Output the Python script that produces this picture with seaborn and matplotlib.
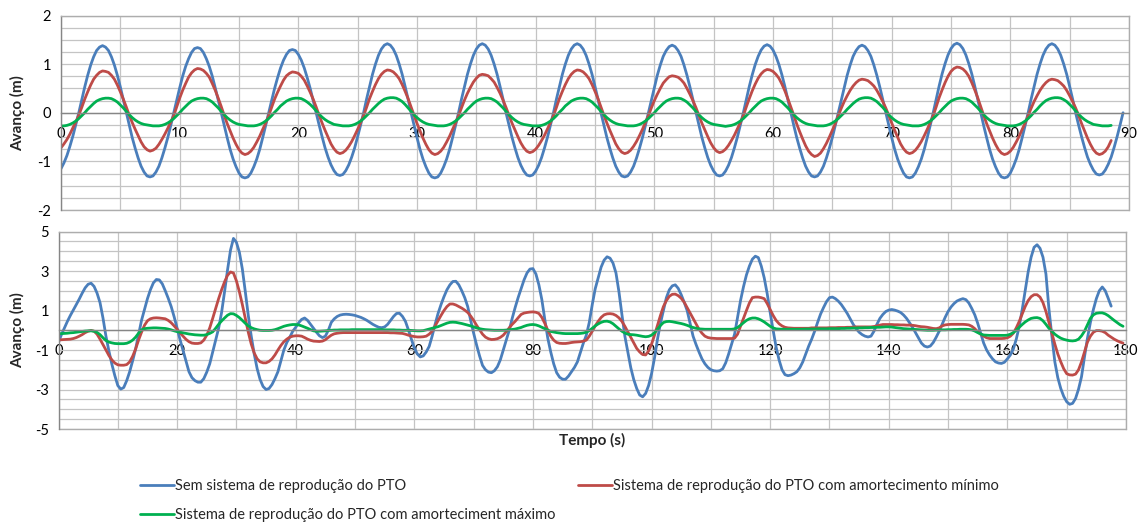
import numpy as np
import pandas as pd
import matplotlib
matplotlib.use("Agg")
import matplotlib.pyplot as plt
import seaborn as sns
from matplotlib.ticker import MultipleLocator

nan = np.nan

# ---------------- top panel data (regular waves), time in s ----------------
top_time = [
    0, 0.25, 0.5, 0.75, 1, 1.25, 1.5, 1.75, 2, 2.25, 2.5, 2.75, 3, 3.25, 3.5, 3.75,
    4, 4.25, 4.5, 4.75, 5, 5.25, 5.5, 5.75, 6, 6.25, 6.5, 6.75, 7, 7.25, 7.5, 7.75,
    8, 8.25, 8.5, 8.75, 9, 9.25, 9.5, 9.75, 10, 10.25, 10.5, 10.75, 11, 11.25, 11.5, 11.75,
    12, 12.25, 12.5, 12.75, 13, 13.25, 13.5, 13.75, 14, 14.25, 14.5, 14.75, 15, 15.25, 15.5, 15.75,
    16, 16.25, 16.5, 16.75, 17, 17.25, 17.5, 17.75, 18, 18.25, 18.5, 18.75, 19, 19.25, 19.5, 19.75,
    20, 20.25, 20.5, 20.75, 21, 21.25, 21.5, 21.75, 22, 22.25, 22.5, 22.75, 23, 23.25, 23.5, 23.75,
    24, 24.25, 24.5, 24.75, 25, 25.25, 25.5, 25.75, 26, 26.25, 26.5, 26.75, 27, 27.25, 27.5, 27.75,
    28, 28.25, 28.5, 28.75, 29, 29.25, 29.5, 29.75, 30, 30.25, 30.5, 30.75, 31, 31.25, 31.5, 31.75,
    32, 32.25, 32.5, 32.75, 33, 33.25, 33.5, 33.75, 34, 34.25, 34.5, 34.75, 35, 35.25, 35.5, 35.75,
    36, 36.25, 36.5, 36.75, 37, 37.25, 37.5, 37.75, 38, 38.25, 38.5, 38.75, 39, 39.25, 39.5, 39.75,
    40, 40.25, 40.5, 40.75, 41, 41.25, 41.5, 41.75, 42, 42.25, 42.5, 42.75, 43, 43.25, 43.5, 43.75,
    44, 44.25, 44.5, 44.75, 45, 45.25, 45.5, 45.75, 46, 46.25, 46.5, 46.75, 47, 47.25, 47.5, 47.75,
    48, 48.25, 48.5, 48.75, 49, 49.25, 49.5, 49.75, 50, 50.25, 50.5, 50.75, 51, 51.25, 51.5, 51.75,
    52, 52.25, 52.5, 52.75, 53, 53.25, 53.5, 53.75, 54, 54.25, 54.5, 54.75, 55, 55.25, 55.5, 55.75,
    56, 56.25, 56.5, 56.75, 57, 57.25, 57.5, 57.75, 58, 58.25, 58.5, 58.75, 59, 59.25, 59.5, 59.75,
    60, 60.25, 60.5, 60.75, 61, 61.25, 61.5, 61.75, 62, 62.25, 62.5, 62.75, 63, 63.25, 63.5, 63.75,
    64, 64.25, 64.5, 64.75, 65, 65.25, 65.5, 65.75, 66, 66.25, 66.5, 66.75, 67, 67.25, 67.5, 67.75,
    68, 68.25, 68.5, 68.75, 69, 69.25, 69.5, 69.75, 70, 70.25, 70.5, 70.75, 71, 71.25, 71.5, 71.75,
    72, 72.25, 72.5, 72.75, 73, 73.25, 73.5, 73.75, 74, 74.25, 74.5, 74.75, 75, 75.25, 75.5, 75.75,
    76, 76.25, 76.5, 76.75, 77, 77.25, 77.5, 77.75, 78, 78.25, 78.5, 78.75, 79, 79.25, 79.5, 79.75,
    80, 80.25, 80.5, 80.75, 81, 81.25, 81.5, 81.75, 82, 82.25, 82.5, 82.75, 83, 83.25, 83.5, 83.75,
    84, 84.25, 84.5, 84.75, 85, 85.25, 85.5, 85.75, 86, 86.25, 86.5, 86.75, 87, 87.25, 87.5, 87.75,
    88, 88.25, 88.5, 88.75, 89, 89.25, 89.5,
]
top_blue = [
    -1.15, -1.03, -0.88, -0.69, -0.48, -0.24, 0.00, 0.27, 0.53, 0.77, 0.98, 1.15, 1.28, 1.35, 1.38, 1.35,
    1.28, 1.15, 0.98, 0.77, 0.53, 0.27, 0.00, -0.26, -0.51, -0.73, -0.93, -1.10, -1.22, -1.30, -1.32, -1.30,
    -1.22, -1.10, -0.93, -0.73, -0.51, -0.26, 0.00, 0.26, 0.51, 0.75, 0.95, 1.11, 1.24, 1.32, 1.34, 1.32,
    1.24, 1.11, 0.95, 0.75, 0.51, 0.26, 0.00, -0.26, -0.51, -0.75, -0.95, -1.11, -1.24, -1.32, -1.34, -1.32,
    -1.24, -1.11, -0.95, -0.75, -0.51, -0.26, 0.00, 0.25, 0.50, 0.72, 0.92, 1.08, 1.20, 1.28, 1.30, 1.28,
    1.20, 1.08, 0.92, 0.72, 0.50, 0.25, 0.00, -0.25, -0.49, -0.72, -0.91, -1.07, -1.19, -1.27, -1.29, -1.27,
    -1.19, -1.07, -0.91, -0.72, -0.49, -0.25, 0.00, 0.28, 0.54, 0.79, 1.00, 1.18, 1.31, 1.39, 1.42, 1.39,
    1.31, 1.18, 1.00, 0.79, 0.54, 0.28, 0.00, -0.26, -0.51, -0.75, -0.95, -1.11, -1.24, -1.32, -1.34, -1.32,
    -1.24, -1.11, -0.95, -0.75, -0.51, -0.26, 0.00, 0.28, 0.54, 0.79, 1.00, 1.18, 1.31, 1.39, 1.42, 1.39,
    1.31, 1.18, 1.00, 0.79, 0.54, 0.28, 0.00, -0.25, -0.50, -0.72, -0.92, -1.08, -1.20, -1.28, -1.30, -1.28,
    -1.20, -1.08, -0.92, -0.72, -0.50, -0.25, 0.00, 0.28, 0.54, 0.79, 1.00, 1.18, 1.31, 1.39, 1.42, 1.39,
    1.31, 1.18, 1.00, 0.79, 0.54, 0.28, 0.00, -0.26, -0.51, -0.73, -0.93, -1.10, -1.22, -1.30, -1.32, -1.30,
    -1.22, -1.10, -0.93, -0.73, -0.51, -0.26, 0.00, 0.27, 0.53, 0.77, 0.98, 1.16, 1.28, 1.36, 1.39, 1.36,
    1.28, 1.16, 0.98, 0.77, 0.53, 0.27, 0.00, -0.25, -0.50, -0.72, -0.92, -1.08, -1.20, -1.28, -1.30, -1.28,
    -1.20, -1.08, -0.92, -0.72, -0.50, -0.25, 0.00, 0.27, 0.54, 0.78, 0.99, 1.16, 1.29, 1.37, 1.40, 1.37,
    1.29, 1.16, 0.99, 0.78, 0.54, 0.27, 0.00, -0.26, -0.51, -0.73, -0.93, -1.10, -1.22, -1.30, -1.32, -1.30,
    -1.22, -1.10, -0.93, -0.73, -0.51, -0.26, 0.00, 0.27, 0.53, 0.77, 0.98, 1.16, 1.28, 1.36, 1.39, 1.36,
    1.28, 1.16, 0.98, 0.77, 0.53, 0.27, 0.00, -0.26, -0.51, -0.75, -0.95, -1.11, -1.24, -1.32, -1.34, -1.32,
    -1.24, -1.11, -0.95, -0.75, -0.51, -0.26, 0.00, 0.28, 0.55, 0.80, 1.01, 1.19, 1.32, 1.40, 1.43, 1.40,
    1.32, 1.19, 1.01, 0.80, 0.55, 0.28, 0.00, -0.26, -0.51, -0.75, -0.95, -1.11, -1.24, -1.32, -1.34, -1.32,
    -1.24, -1.11, -0.95, -0.75, -0.51, -0.26, 0.00, 0.28, 0.54, 0.79, 1.00, 1.18, 1.31, 1.39, 1.42, 1.39,
    1.31, 1.18, 1.00, 0.79, 0.54, 0.28, 0.00, -0.25, -0.49, -0.71, -0.91, -1.06, -1.18, -1.26, -1.28, -1.26,
    -1.18, -1.06, -0.91, -0.71, -0.49, -0.25, 0.00,
]
top_red = [
    -0.72, -0.64, -0.55, -0.44, -0.31, -0.19, -0.05, 0.11, 0.28, 0.43, 0.57, 0.69, 0.77, 0.83, 0.86, 0.85,
    0.83, 0.77, 0.69, 0.57, 0.43, 0.28, 0.12, -0.05, -0.20, -0.34, -0.47, -0.60, -0.70, -0.76, -0.79, -0.77,
    -0.73, -0.65, -0.55, -0.44, -0.32, -0.19, -0.06, 0.12, 0.30, 0.46, 0.60, 0.73, 0.82, 0.88, 0.91, 0.90,
    0.87, 0.81, 0.73, 0.60, 0.46, 0.30, 0.13, -0.05, -0.22, -0.37, -0.52, -0.65, -0.76, -0.83, -0.86, -0.84,
    -0.79, -0.71, -0.60, -0.48, -0.34, -0.21, -0.06, 0.11, 0.28, 0.42, 0.55, 0.67, 0.76, 0.81, 0.84, 0.83,
    0.81, 0.75, 0.67, 0.55, 0.42, 0.28, 0.12, -0.05, -0.21, -0.36, -0.50, -0.64, -0.74, -0.81, -0.84, -0.82,
    -0.77, -0.69, -0.59, -0.47, -0.34, -0.20, -0.06, 0.11, 0.29, 0.44, 0.58, 0.70, 0.79, 0.85, 0.88, 0.87,
    0.84, 0.78, 0.70, 0.58, 0.44, 0.29, 0.12, -0.05, -0.22, -0.37, -0.52, -0.65, -0.76, -0.83, -0.86, -0.84,
    -0.79, -0.71, -0.60, -0.48, -0.34, -0.21, -0.06, 0.10, 0.26, 0.40, 0.52, 0.63, 0.71, 0.77, 0.79, 0.78,
    0.76, 0.70, 0.63, 0.52, 0.40, 0.26, 0.11, -0.05, -0.21, -0.35, -0.49, -0.62, -0.72, -0.79, -0.82, -0.80,
    -0.75, -0.67, -0.57, -0.46, -0.33, -0.20, -0.06, 0.11, 0.29, 0.44, 0.58, 0.70, 0.79, 0.85, 0.88, 0.87,
    0.84, 0.78, 0.70, 0.58, 0.44, 0.29, 0.12, -0.05, -0.21, -0.36, -0.50, -0.64, -0.74, -0.81, -0.84, -0.82,
    -0.77, -0.69, -0.59, -0.47, -0.34, -0.20, -0.06, 0.10, 0.25, 0.38, 0.50, 0.61, 0.68, 0.74, 0.76, 0.75,
    0.73, 0.68, 0.61, 0.50, 0.38, 0.25, 0.11, -0.05, -0.21, -0.35, -0.49, -0.62, -0.72, -0.79, -0.82, -0.80,
    -0.75, -0.67, -0.57, -0.46, -0.33, -0.20, -0.06, 0.12, 0.29, 0.45, 0.59, 0.71, 0.80, 0.86, 0.89, 0.88,
    0.85, 0.79, 0.71, 0.59, 0.45, 0.29, 0.12, -0.05, -0.23, -0.39, -0.54, -0.68, -0.79, -0.86, -0.90, -0.88,
    -0.83, -0.74, -0.63, -0.50, -0.36, -0.22, -0.06, 0.09, 0.23, 0.35, 0.46, 0.55, 0.62, 0.67, 0.69, 0.68,
    0.66, 0.61, 0.55, 0.46, 0.35, 0.23, 0.10, -0.05, -0.21, -0.36, -0.50, -0.64, -0.74, -0.81, -0.84, -0.82,
    -0.77, -0.69, -0.59, -0.47, -0.34, -0.20, -0.06, 0.12, 0.31, 0.47, 0.62, 0.75, 0.85, 0.91, 0.94, 0.93,
    0.90, 0.84, 0.75, 0.62, 0.47, 0.31, 0.13, -0.05, -0.22, -0.37, -0.52, -0.65, -0.76, -0.83, -0.86, -0.84,
    -0.79, -0.71, -0.60, -0.48, -0.34, -0.21, -0.06, 0.09, 0.23, 0.35, 0.46, 0.55, 0.62, 0.67, 0.69, 0.68,
    0.66, 0.61, 0.55, 0.46, 0.35, 0.23, 0.10, -0.05, -0.22, -0.37, -0.52, -0.65, -0.76, -0.83, -0.86, -0.84,
    -0.79, -0.70, -0.57, nan, nan, nan, nan,
]
top_green = [
    -0.27, -0.27, -0.26, -0.24, -0.21, -0.17, -0.12, -0.06, 0.00, 0.07, 0.13, 0.19, 0.24, 0.27, 0.29, 0.30,
    0.30, 0.29, 0.26, 0.22, 0.16, 0.10, 0.03, -0.04, -0.10, -0.15, -0.19, -0.22, -0.24, -0.25, -0.26, -0.27,
    -0.27, -0.27, -0.26, -0.24, -0.21, -0.17, -0.12, -0.06, 0.00, 0.07, 0.13, 0.19, 0.24, 0.27, 0.29, 0.30,
    0.30, 0.29, 0.26, 0.22, 0.16, 0.10, 0.03, -0.04, -0.10, -0.15, -0.19, -0.22, -0.24, -0.25, -0.26, -0.27,
    -0.27, -0.27, -0.26, -0.24, -0.21, -0.17, -0.12, -0.06, 0.01, 0.07, 0.14, 0.19, 0.24, 0.27, 0.29, 0.30,
    0.30, 0.29, 0.26, 0.22, 0.17, 0.11, 0.04, -0.03, -0.09, -0.14, -0.18, -0.21, -0.24, -0.25, -0.26, -0.27,
    -0.27, -0.27, -0.26, -0.24, -0.21, -0.17, -0.12, -0.06, 0.00, 0.07, 0.13, 0.19, 0.24, 0.28, 0.30, 0.31,
    0.31, 0.30, 0.27, 0.23, 0.17, 0.10, 0.03, -0.04, -0.10, -0.15, -0.19, -0.22, -0.24, -0.25, -0.26, -0.27,
    -0.27, -0.27, -0.26, -0.24, -0.21, -0.17, -0.12, -0.06, 0.00, 0.07, 0.13, 0.19, 0.24, 0.27, 0.29, 0.30,
    0.30, 0.29, 0.26, 0.22, 0.16, 0.10, 0.03, -0.04, -0.10, -0.15, -0.19, -0.22, -0.24, -0.25, -0.26, -0.27,
    -0.27, -0.27, -0.26, -0.24, -0.21, -0.17, -0.12, -0.06, 0.01, 0.07, 0.14, 0.19, 0.24, 0.27, 0.29, 0.30,
    0.30, 0.29, 0.26, 0.22, 0.16, 0.10, 0.03, -0.04, -0.10, -0.15, -0.19, -0.22, -0.24, -0.25, -0.26, -0.27,
    -0.27, -0.27, -0.26, -0.24, -0.21, -0.17, -0.12, -0.06, 0.00, 0.07, 0.13, 0.19, 0.24, 0.27, 0.29, 0.30,
    0.30, 0.29, 0.26, 0.22, 0.16, 0.10, 0.03, -0.04, -0.10, -0.15, -0.19, -0.22, -0.24, -0.25, -0.26, -0.27,
    -0.28, -0.27, -0.26, -0.24, -0.21, -0.17, -0.12, -0.06, 0.00, 0.07, 0.13, 0.19, 0.24, 0.27, 0.29, 0.30,
    0.30, 0.29, 0.26, 0.22, 0.16, 0.10, 0.03, -0.04, -0.10, -0.15, -0.19, -0.22, -0.24, -0.25, -0.26, -0.27,
    -0.27, -0.27, -0.26, -0.24, -0.21, -0.17, -0.12, -0.06, 0.00, 0.07, 0.13, 0.19, 0.24, 0.28, 0.30, 0.31,
    0.31, 0.30, 0.27, 0.23, 0.17, 0.11, 0.04, -0.04, -0.10, -0.15, -0.19, -0.22, -0.24, -0.25, -0.26, -0.27,
    -0.27, -0.27, -0.26, -0.24, -0.21, -0.17, -0.12, -0.06, 0.00, 0.07, 0.13, 0.19, 0.24, 0.27, 0.29, 0.30,
    0.30, 0.29, 0.26, 0.22, 0.16, 0.10, 0.03, -0.04, -0.10, -0.15, -0.19, -0.22, -0.24, -0.25, -0.26, -0.27,
    -0.27, -0.27, -0.26, -0.24, -0.21, -0.17, -0.12, -0.06, 0.01, 0.07, 0.14, 0.20, 0.25, 0.28, 0.30, 0.31,
    0.31, 0.30, 0.27, 0.23, 0.17, 0.11, 0.04, -0.03, -0.09, -0.14, -0.18, -0.21, -0.24, -0.25, -0.26, -0.27,
    -0.27, -0.27, -0.26, nan, nan, nan, nan,
]

# ---------------- bottom panel data (irregular waves), time in s ----------------
bottom_time = [
    0, 0.5, 1, 1.5, 2, 2.5, 3, 3.5, 4, 4.5, 5, 5.5, 6, 6.5, 7, 7.5, 8, 8.5, 9, 9.5,
    10, 10.5, 11, 11.5, 12, 12.5, 13, 13.5, 14, 14.5, 15, 15.5, 16, 16.5, 17, 17.5, 18, 18.5, 19, 19.5,
    20, 20.5, 21, 21.5, 22, 22.5, 23, 23.5, 24, 24.5, 25, 25.5, 26, 26.5, 27, 27.5, 28, 28.5, 29, 29.5,
    30, 30.5, 31, 31.5, 32, 32.5, 33, 33.5, 34, 34.5, 35, 35.5, 36, 36.5, 37, 37.5, 38, 38.5, 39, 39.5,
    40, 40.5, 41, 41.5, 42, 42.5, 43, 43.5, 44, 44.5, 45, 45.5, 46, 46.5, 47, 47.5, 48, 48.5, 49, 49.5,
    50, 50.5, 51, 51.5, 52, 52.5, 53, 53.5, 54, 54.5, 55, 55.5, 56, 56.5, 57, 57.5, 58, 58.5, 59, 59.5,
    60, 60.5, 61, 61.5, 62, 62.5, 63, 63.5, 64, 64.5, 65, 65.5, 66, 66.5, 67, 67.5, 68, 68.5, 69, 69.5,
    70, 70.5, 71, 71.5, 72, 72.5, 73, 73.5, 74, 74.5, 75, 75.5, 76, 76.5, 77, 77.5, 78, 78.5, 79, 79.5,
    80, 80.5, 81, 81.5, 82, 82.5, 83, 83.5, 84, 84.5, 85, 85.5, 86, 86.5, 87, 87.5, 88, 88.5, 89, 89.5,
    90, 90.5, 91, 91.5, 92, 92.5, 93, 93.5, 94, 94.5, 95, 95.5, 96, 96.5, 97, 97.5, 98, 98.5, 99, 99.5,
    100, 100.5, 101, 101.5, 102, 102.5, 103, 103.5, 104, 104.5, 105, 105.5, 106, 106.5, 107, 107.5, 108, 108.5, 109, 109.5,
    110, 110.5, 111, 111.5, 112, 112.5, 113, 113.5, 114, 114.5, 115, 115.5, 116, 116.5, 117, 117.5, 118, 118.5, 119, 119.5,
    120, 120.5, 121, 121.5, 122, 122.5, 123, 123.5, 124, 124.5, 125, 125.5, 126, 126.5, 127, 127.5, 128, 128.5, 129, 129.5,
    130, 130.5, 131, 131.5, 132, 132.5, 133, 133.5, 134, 134.5, 135, 135.5, 136, 136.5, 137, 137.5, 138, 138.5, 139, 139.5,
    140, 140.5, 141, 141.5, 142, 142.5, 143, 143.5, 144, 144.5, 145, 145.5, 146, 146.5, 147, 147.5, 148, 148.5, 149, 149.5,
    150, 150.5, 151, 151.5, 152, 152.5, 153, 153.5, 154, 154.5, 155, 155.5, 156, 156.5, 157, 157.5, 158, 158.5, 159, 159.5,
    160, 160.5, 161, 161.5, 162, 162.5, 163, 163.5, 164, 164.5, 165, 165.5, 166, 166.5, 167, 167.5, 168, 168.5, 169, 169.5,
    170, 170.5, 171, 171.5, 172, 172.5, 173, 173.5, 174, 174.5, 175, 175.5, 176, 176.5, 177, 177.5, 178, 178.5, 179, 179.5,
]
bottom_blue = [
    -0.60, -0.22, 0.12, 0.45, 0.75, 1.02, 1.30, 1.58, 1.88, 2.15, 2.33, 2.38, 2.22, 1.88, 1.40, 0.62, -0.30, -1.05, -1.72, -2.30,
    -2.80, -2.98, -2.90, -2.55, -2.10, -1.55, -0.95, -0.22, 0.50, 1.05, 1.60, 2.05, 2.40, 2.57, 2.55, 2.35, 2.00, 1.62, 1.20, 0.68,
    0.10, -0.48, -1.02, -1.58, -2.10, -2.40, -2.55, -2.63, -2.63, -2.45, -2.12, -1.70, -1.10, -0.50, 0.10, 0.90, 1.95, 3.05, 4.05, 4.65,
    4.45, 3.95, 3.10, 1.95, 0.75, -0.30, -1.20, -1.95, -2.50, -2.85, -3.00, -2.95, -2.75, -2.45, -2.10, -1.55, -1.00, -0.62, -0.35, -0.05,
    0.15, 0.38, 0.55, 0.62, 0.50, 0.30, 0.10, -0.10, -0.28, -0.37, -0.30, 0.00, 0.40, 0.58, 0.70, 0.77, 0.80, 0.81, 0.80, 0.78,
    0.75, 0.70, 0.65, 0.58, 0.50, 0.40, 0.30, 0.22, 0.15, 0.13, 0.17, 0.30, 0.50, 0.70, 0.85, 0.86, 0.70, 0.45, 0.02, -0.45,
    -0.90, -1.20, -1.35, -1.30, -1.10, -0.82, -0.30, 0.30, 0.85, 1.30, 1.70, 2.05, 2.30, 2.47, 2.48, 2.30, 2.00, 1.65, 1.20, 0.50,
    -0.15, -0.75, -1.30, -1.78, -2.00, -2.12, -2.15, -2.05, -1.85, -1.50, -1.00, -0.50, 0.00, 0.60, 1.15, 1.65, 2.10, 2.55, 2.90, 3.10,
    3.12, 2.85, 2.30, 1.55, 0.55, -0.40, -1.10, -1.70, -2.15, -2.38, -2.48, -2.48, -2.32, -2.10, -1.88, -1.60, -1.12, -0.65, -0.25, 0.40,
    1.30, 2.10, 2.65, 3.20, 3.55, 3.72, 3.65, 3.40, 2.90, 1.95, 0.80, -0.30, -1.10, -1.90, -2.50, -2.95, -3.28, -3.37, -3.20, -2.80,
    -2.20, -1.40, -0.45, 0.35, 1.00, 1.65, 2.05, 2.25, 2.30, 2.12, 1.80, 1.42, 1.00, 0.35, -0.30, -0.72, -1.10, -1.45, -1.70, -1.88,
    -2.00, -2.05, -2.07, -2.05, -1.95, -1.65, -1.20, -0.70, -0.20, 0.65, 1.50, 2.20, 2.80, 3.25, 3.60, 3.75, 3.68, 3.25, 2.65, 1.85,
    0.90, 0.00, -0.85, -1.50, -2.00, -2.25, -2.30, -2.27, -2.20, -2.10, -1.90, -1.60, -1.20, -0.80, -0.45, -0.05, 0.40, 0.82, 1.15, 1.45,
    1.65, 1.68, 1.60, 1.47, 1.30, 1.08, 0.85, 0.57, 0.30, 0.08, -0.10, -0.22, -0.30, -0.34, -0.30, -0.05, 0.30, 0.60, 0.80, 0.95,
    1.02, 1.05, 1.02, 0.97, 0.90, 0.77, 0.60, 0.38, 0.15, -0.12, -0.40, -0.65, -0.80, -0.85, -0.80, -0.62, -0.35, -0.05, 0.30, 0.65,
    0.95, 1.18, 1.35, 1.48, 1.55, 1.60, 1.55, 1.38, 1.10, 0.78, 0.35, -0.15, -0.65, -1.00, -1.25, -1.45, -1.60, -1.66, -1.68, -1.62,
    -1.45, -1.25, -0.95, -0.45, 0.20, 1.05, 2.00, 2.95, 3.70, 4.20, 4.33, 4.15, 3.70, 2.85, 1.10, -0.30, -1.60, -2.40, -2.95, -3.35,
    -3.62, -3.75, -3.70, -3.45, -2.98, -2.35, -1.35, -0.40, 0.40, 1.05, 1.60, 2.00, 2.19, 2.00, 1.62, 1.22, nan, nan, nan, nan,
]
bottom_red = [
    -0.50, -0.48, -0.47, -0.46, -0.45, -0.42, -0.37, -0.30, -0.22, -0.12, -0.05, -0.01, -0.05, -0.20, -0.45, -0.72, -1.00, -1.28, -1.50, -1.66,
    -1.75, -1.77, -1.77, -1.74, -1.60, -1.32, -0.95, -0.50, -0.10, 0.25, 0.48, 0.58, 0.62, 0.63, 0.62, 0.60, 0.58, 0.50, 0.38, 0.22,
    0.05, -0.13, -0.30, -0.46, -0.58, -0.65, -0.67, -0.67, -0.64, -0.50, -0.25, 0.12, 0.60, 1.10, 1.60, 2.05, 2.45, 2.78, 2.95, 2.90,
    2.50, 1.95, 1.30, 0.60, -0.10, -0.70, -1.15, -1.45, -1.60, -1.65, -1.65, -1.58, -1.45, -1.25, -1.00, -0.77, -0.58, -0.45, -0.35, -0.30,
    -0.28, -0.28, -0.30, -0.37, -0.45, -0.51, -0.55, -0.56, -0.57, -0.55, -0.48, -0.36, -0.25, -0.18, -0.15, -0.13, -0.12, -0.12, -0.12, -0.12,
    -0.12, -0.12, -0.12, -0.12, -0.12, -0.12, -0.12, -0.12, -0.12, -0.12, -0.12, -0.12, -0.13, -0.13, -0.14, -0.15, -0.16, -0.20, -0.25, -0.29,
    -0.32, -0.34, -0.34, -0.33, -0.30, -0.20, -0.05, 0.22, 0.50, 0.75, 1.00, 1.20, 1.33, 1.33, 1.28, 1.20, 1.12, 1.02, 0.90, 0.72,
    0.50, 0.25, 0.02, -0.20, -0.35, -0.43, -0.47, -0.46, -0.43, -0.36, -0.25, -0.07, 0.12, 0.30, 0.45, 0.63, 0.80, 0.87, 0.90, 0.92,
    0.93, 0.91, 0.85, 0.65, 0.35, 0.00, -0.30, -0.50, -0.62, -0.66, -0.67, -0.67, -0.65, -0.62, -0.60, -0.59, -0.58, -0.55, -0.50, -0.30,
    -0.05, 0.22, 0.45, 0.65, 0.78, 0.83, 0.84, 0.82, 0.75, 0.63, 0.45, 0.20, -0.08, -0.37, -0.65, -0.92, -1.10, -1.23, -1.25, -1.05,
    -0.70, -0.25, 0.25, 0.75, 1.20, 1.50, 1.72, 1.82, 1.83, 1.75, 1.62, 1.42, 1.15, 0.88, 0.60, 0.32, 0.05, -0.15, -0.30, -0.37,
    -0.40, -0.41, -0.42, -0.42, -0.42, -0.42, -0.42, -0.42, -0.40, -0.20, 0.20, 0.60, 1.00, 1.38, 1.65, 1.68, 1.68, 1.65, 1.60, 1.35,
    1.05, 0.75, 0.50, 0.33, 0.22, 0.15, 0.12, 0.11, 0.10, 0.10, 0.10, 0.10, 0.10, 0.10, 0.12, 0.12, 0.12, 0.12, 0.12, 0.12,
    0.13, 0.13, 0.13, 0.14, 0.14, 0.14, 0.15, 0.15, 0.16, 0.17, 0.17, 0.17, 0.17, 0.17, 0.17, 0.19, 0.22, 0.26, 0.29, 0.29,
    0.29, 0.29, 0.28, 0.28, 0.27, 0.27, 0.26, 0.26, 0.25, 0.23, 0.20, 0.18, 0.17, 0.15, 0.12, 0.09, 0.08, 0.12, 0.22, 0.27,
    0.29, 0.30, 0.30, 0.30, 0.30, 0.30, 0.29, 0.27, 0.20, 0.08, -0.08, -0.20, -0.30, -0.38, -0.42, -0.42, -0.42, -0.42, -0.42, -0.41,
    -0.38, -0.30, -0.15, 0.12, 0.45, 0.82, 1.20, 1.50, 1.70, 1.80, 1.80, 1.68, 1.40, 0.95, 0.40, -0.15, -0.70, -1.20, -1.60, -1.95,
    -2.20, -2.26, -2.27, -2.22, -2.00, -1.60, -1.10, -0.60, -0.30, -0.10, -0.02, -0.02, -0.05, -0.12, -0.25, -0.35, -0.45, -0.53, -0.60, -0.65,
]
bottom_green = [
    -0.17, -0.17, -0.16, -0.15, -0.13, -0.12, -0.10, -0.08, -0.06, -0.04, -0.03, -0.03, -0.05, -0.11, -0.22, -0.38, -0.52, -0.60, -0.64, -0.67,
    -0.68, -0.68, -0.68, -0.66, -0.60, -0.50, -0.35, -0.15, 0.02, 0.08, 0.10, 0.11, 0.12, 0.12, 0.11, 0.10, 0.09, 0.06, 0.02, -0.03,
    -0.07, -0.10, -0.13, -0.16, -0.19, -0.21, -0.23, -0.24, -0.25, -0.25, -0.22, -0.16, -0.08, 0.10, 0.30, 0.47, 0.62, 0.76, 0.84, 0.83,
    0.75, 0.64, 0.50, 0.35, 0.22, 0.13, 0.07, 0.03, 0.00, -0.01, -0.01, -0.01, 0.00, 0.03, 0.08, 0.14, 0.20, 0.24, 0.27, 0.29,
    0.29, 0.27, 0.22, 0.16, 0.10, 0.03, -0.03, -0.05, -0.05, -0.04, -0.03, -0.01, 0.00, 0.01, 0.01, 0.02, 0.02, 0.02, 0.02, 0.03,
    0.03, 0.03, 0.03, 0.03, 0.03, 0.03, 0.03, 0.03, 0.03, 0.03, 0.02, 0.02, 0.02, 0.02, 0.01, 0.01, 0.00, 0.00, 0.00, -0.01,
    -0.02, -0.03, -0.03, -0.02, 0.02, 0.06, 0.10, 0.14, 0.18, 0.24, 0.30, 0.36, 0.40, 0.41, 0.40, 0.37, 0.34, 0.30, 0.26, 0.22,
    0.17, 0.12, 0.08, 0.05, 0.03, 0.02, 0.01, 0.00, 0.00, 0.00, 0.00, 0.01, 0.02, 0.04, 0.06, 0.10, 0.14, 0.20, 0.25, 0.28,
    0.29, 0.27, 0.22, 0.15, 0.08, 0.01, -0.06, -0.09, -0.12, -0.14, -0.16, -0.17, -0.17, -0.17, -0.17, -0.17, -0.16, -0.14, -0.10, -0.02,
    0.10, 0.22, 0.32, 0.40, 0.45, 0.46, 0.42, 0.33, 0.20, 0.07, -0.05, -0.14, -0.20, -0.22, -0.23, -0.25, -0.28, -0.31, -0.33, -0.31,
    -0.25, -0.12, 0.05, 0.24, 0.39, 0.44, 0.45, 0.43, 0.40, 0.37, 0.34, 0.30, 0.25, 0.19, 0.14, 0.10, 0.07, 0.06, 0.05, 0.05,
    0.05, 0.05, 0.05, 0.05, 0.05, 0.05, 0.05, 0.05, 0.07, 0.14, 0.25, 0.38, 0.50, 0.58, 0.62, 0.62, 0.58, 0.51, 0.42, 0.31,
    0.20, 0.12, 0.07, 0.06, 0.05, 0.05, 0.05, 0.05, 0.05, 0.05, 0.05, 0.05, 0.06, 0.06, 0.06, 0.06, 0.07, 0.07, 0.07, 0.07,
    0.08, 0.08, 0.08, 0.08, 0.09, 0.09, 0.10, 0.10, 0.11, 0.11, 0.12, 0.12, 0.13, 0.13, 0.14, 0.14, 0.15, 0.15, 0.16, 0.17,
    0.17, 0.16, 0.14, 0.12, 0.10, 0.08, 0.07, 0.06, 0.05, 0.04, 0.03, 0.02, 0.01, 0.00, 0.00, 0.00, 0.01, 0.01, 0.02, 0.02,
    0.03, 0.03, 0.04, 0.04, 0.05, 0.05, 0.05, 0.04, 0.02, -0.04, -0.12, -0.19, -0.24, -0.25, -0.26, -0.26, -0.26, -0.26, -0.26, -0.26,
    -0.25, -0.20, -0.12, 0.00, 0.15, 0.29, 0.42, 0.52, 0.60, 0.63, 0.64, 0.60, 0.48, 0.30, 0.10, -0.05, -0.20, -0.31, -0.40, -0.46,
    -0.50, -0.53, -0.54, -0.52, -0.45, -0.28, -0.05, 0.28, 0.60, 0.78, 0.86, 0.88, 0.88, 0.83, 0.74, 0.62, 0.50, 0.39, 0.28, 0.20,
]

series_labels = [
    "Sem sistema de reprodução do PTO",
    "Sistema de reprodução do PTO com amortecimento mínimo",
    "Sistema de reprodução do PTO com amorteciment máximo",
]
series_colors = ["#4A7EBB", "#BE4B48", "#00B050"]

# ---------------- style ----------------
sns.set_style("white")
plt.rcParams["font.family"] = ["Lato", "DejaVu Sans"]
plt.rcParams["axes.unicode_minus"] = False

W, H = 1145, 522
fig = plt.figure(figsize=(W / 100, H / 100), dpi=100)
ax1 = fig.add_axes([61 / W, 1 - 210 / H, (1129 - 61) / W, (210 - 15.5) / H])
ax2 = fig.add_axes([58.5 / W, 1 - 429 / H, (1126 - 58.5) / W, (429 - 231.5) / H])

top_df = pd.DataFrame({"t": top_time, "b": top_blue, "r": top_red, "g": top_green})
bot_df = pd.DataFrame({"t": bottom_time, "b": bottom_blue, "r": bottom_red, "g": bottom_green})

for ax, df in ((ax1, top_df), (ax2, bot_df)):
    for col, lab, colr in zip(("b", "r", "g"), series_labels, series_colors):
        sub = df[["t", col]].dropna()
        sns.lineplot(data=sub, x="t", y=col, ax=ax, color=colr, lw=2.0,
                     label=lab, sort=False, estimator=None, legend=False)

GRID = "#C4C4C4"
BORDER = "#ADADAD"
AXIS = "#868686"


def style(ax, xmax, xmajor, xminor, ymin, ymax, yticks, yminor, ylab_x):
    ax.set_xlim(0, xmax)
    ax.set_ylim(ymin, ymax)
    ax.set_axisbelow(True)
    ax.xaxis.set_major_locator(MultipleLocator(xmajor))
    ax.xaxis.set_minor_locator(MultipleLocator(xminor))
    ax.set_yticks(yticks)
    ax.yaxis.set_minor_locator(MultipleLocator(yminor))
    ax.grid(which="both", axis="both", color=GRID, lw=0.9)
    ax.spines["bottom"].set_position(("data", 0))
    ax.spines["bottom"].set_color(AXIS)
    ax.spines["bottom"].set_linewidth(1.0)
    ax.spines["left"].set_color(AXIS)
    ax.spines["left"].set_linewidth(1.0)
    for s in ("top", "right"):
        ax.spines[s].set_visible(True)
        ax.spines[s].set_color(BORDER)
        ax.spines[s].set_linewidth(1.0)
    ax.axhline(ymin, color=BORDER, lw=1.0, clip_on=False, zorder=0.5)
    ax.tick_params(axis="x", which="both", length=0, pad=10, labelsize=10.5,
                   labelcolor="black")
    ax.tick_params(axis="y", which="major", direction="out", length=4,
                   color=AXIS, pad=3, labelsize=10.5, labelcolor="black")
    ax.tick_params(axis="y", which="minor", length=0)
    ax.set_xlabel("")
    ax.set_ylabel("Avanço (m)", fontsize=11, fontweight="bold")
    ax.yaxis.set_label_coords(ylab_x, 0.5)
    ax.xaxis.set_major_formatter(plt.FuncFormatter(lambda v, p: f"{int(round(v))}"))
    ax.yaxis.set_major_formatter(plt.FuncFormatter(lambda v, p: f"{int(round(v))}"))


style(ax1, 90, 10, 5, -2, 2, [-2, -1, 0, 1, 2], 0.25, (25 - 61) / (1129 - 61))
style(ax2, 180, 20, 10, -5, 5, [-5, -3, -1, 1, 3, 5], 0.5, (25 - 58.5) / (1126 - 58.5))

fig.text(592 / W, 1 - 440 / H, "Tempo (s)", ha="center", va="center",
         fontsize=11, fontweight="bold")

handles = ax1.get_lines()[:3]
legend_pos = [(140 / W, 1 - 486 / H), (578 / W, 1 - 486 / H), (140 / W, 1 - 515 / H)]
for h, lab, pos in zip(handles, series_labels, legend_pos):
    fig.legend([h], [lab], loc="center left", bbox_to_anchor=pos, frameon=False,
               borderpad=0, borderaxespad=0, handlelength=2.3, handletextpad=0.1,
               fontsize=10.5)

fig.savefig("out.png", dpi=100)
